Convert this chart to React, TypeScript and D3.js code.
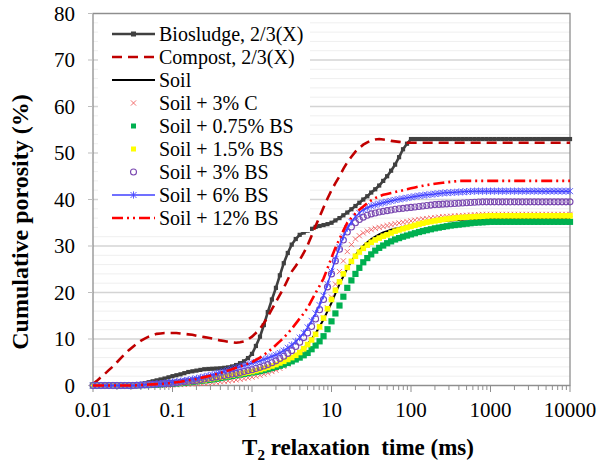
import React from "react";
import * as d3 from "d3";

// T2 relaxation time grid (ms), 20 points per decade
const T2_MS = [
  0.01, 0.0112, 0.0126, 0.0141, 0.0158, 0.0178, 0.02, 0.0224, 0.0251, 0.0282, 0.0316, 0.0355, 0.0398, 0.0447, 0.0501, 0.0562, 0.0631, 0.0708, 0.0794, 0.0891,
  0.1, 0.112, 0.126, 0.141, 0.158, 0.178, 0.2, 0.224, 0.251, 0.282, 0.316, 0.355, 0.398, 0.447, 0.501, 0.562, 0.631, 0.708, 0.794, 0.891,
  1, 1.12, 1.26, 1.41, 1.58, 1.78, 2, 2.24, 2.51, 2.82, 3.16, 3.55, 3.98, 4.47, 5.01, 5.62, 6.31, 7.08, 7.94, 8.91,
  10, 11.2, 12.6, 14.1, 15.8, 17.8, 20, 22.4, 25.1, 28.2, 31.6, 35.5, 39.8, 44.7, 50.1, 56.2, 63.1, 70.8, 79.4, 89.1,
  100, 112, 126, 141, 158, 178, 200, 224, 251, 282, 316, 355, 398, 447, 501, 562, 631, 708, 794, 891,
  1000, 1120, 1260, 1410, 1580, 1780, 2000, 2240, 2510, 2820, 3160, 3550, 3980, 4470, 5010, 5620, 6310, 7080, 7940, 8910,
  10000,
];

const BIOSLUDGE = [
  0, 0, 0, 0, 0, 0, 0, 0, 0, 0, 0, 0.1, 0.3, 0.5, 0.7, 0.9, 1.1, 1.3, 1.5, 1.75,
  2.0, 2.2, 2.4, 2.65, 2.9, 3.05, 3.2, 3.35, 3.5, 3.55, 3.6, 3.65, 3.7, 3.8, 3.9, 4.1, 4.4, 4.8, 5.2, 5.9,
  6.8, 8.5, 10.5, 13.0, 15.8, 18.5, 21.0, 23.7, 26.3, 28.5, 30.3, 31.5, 32.4, 32.9, 33.3, 33.7, 34.1, 34.3, 34.5, 34.7,
  35.0, 35.5, 36.0, 36.6, 37.2, 37.9, 38.6, 39.3, 40.0, 40.7, 41.5, 42.2, 43.0, 44.0, 45.0, 46.2, 47.5, 49.1, 50.8, 52.0,
  53.0, 53.0, 53.0, 53.0, 53.0, 53.0, 53.0, 53.0, 53.0, 53.0, 53.0, 53.0, 53.0, 53.0, 53.0, 53.0, 53.0, 53.0, 53.0, 53.0,
  53.0, 53.0, 53.0, 53.0, 53.0, 53.0, 53.0, 53.0, 53.0, 53.0, 53.0, 53.0, 53.0, 53.0, 53.0, 53.0, 53.0, 53.0, 53.0, 53.0,
  53.0,
];
const COMPOST = [
  0.3, 1.0, 1.8, 2.5, 3.3, 4.1, 5.0, 5.9, 6.8, 7.6, 8.3, 9.0, 9.6, 10.1, 10.5, 10.8, 11.1, 11.2, 11.3, 11.3,
  11.3, 11.3, 11.2, 11.1, 11.0, 10.9, 10.7, 10.55, 10.4, 10.25, 10.1, 9.9, 9.7, 9.55, 9.4, 9.3, 9.2, 9.3, 9.5, 9.9,
  10.5, 11.3, 12.2, 13.4, 14.8, 16.4, 18.0, 19.5, 21.0, 22.8, 24.5, 25.7, 27.0, 28.5, 30.2, 32.2, 34.3, 36.3, 38.3, 40.2,
  42.0, 43.5, 45.0, 46.6, 48.0, 49.2, 50.3, 51.1, 51.8, 52.3, 52.7, 52.9, 53.0, 52.9, 52.8, 52.6, 52.5, 52.4, 52.3, 52.2,
  52.2, 52.2, 52.2, 52.2, 52.2, 52.2, 52.2, 52.2, 52.2, 52.2, 52.2, 52.2, 52.2, 52.2, 52.2, 52.2, 52.2, 52.2, 52.2, 52.2,
  52.2, 52.2, 52.2, 52.2, 52.2, 52.2, 52.2, 52.2, 52.2, 52.2, 52.2, 52.2, 52.2, 52.2, 52.2, 52.2, 52.2, 52.2, 52.2, 52.2,
  52.2,
];
const SOIL = [
  0, 0, 0, 0, 0, 0, 0, 0, 0, 0, 0, 0.05, 0.1, 0.15, 0.2, 0.25, 0.3, 0.35, 0.4, 0.45,
  0.5, 0.55, 0.6, 0.7, 0.8, 0.9, 1.0, 1.1, 1.2, 1.3, 1.4, 1.55, 1.7, 1.85, 2.0, 2.15, 2.3, 2.45, 2.6, 2.75,
  2.9, 3.1, 3.3, 3.55, 3.8, 4.1, 4.4, 4.75, 5.1, 5.5, 6.0, 6.6, 7.2, 8.0, 8.9, 10.0, 11.2, 12.7, 14.2, 16.0,
  17.8, 19.8, 21.8, 23.5, 25.2, 26.7, 28.0, 29.1, 30.0, 30.8, 31.5, 32.0, 32.5, 32.9, 33.2, 33.5, 33.7, 33.9, 34.1, 34.3,
  34.5, 34.65, 34.8, 34.9, 35.0, 35.1, 35.2, 35.3, 35.4, 35.45, 35.5, 35.55, 35.6, 35.65, 35.7, 35.75, 35.8, 35.8, 35.8, 35.8,
  35.8, 35.8, 35.8, 35.8, 35.8, 35.8, 35.8, 35.8, 35.8, 35.8, 35.8, 35.8, 35.8, 35.8, 35.8, 35.8, 35.8, 35.8, 35.8, 35.8,
  35.8,
];
const SOIL_3C = [
  0, 0, 0, 0, 0, 0, 0, 0, 0, 0, 0, 0, 0, 0, 0, 0, 0, 0, 0, 0,
  0.1, 0.15, 0.2, 0.25, 0.3, 0.35, 0.4, 0.45, 0.5, 0.55, 0.6, 0.7, 0.8, 0.9, 1.0, 1.1, 1.2, 1.35, 1.5, 1.65,
  1.8, 2.0, 2.2, 2.45, 2.7, 3.0, 3.3, 3.7, 4.1, 4.6, 5.2, 5.9, 6.6, 7.5, 8.5, 9.7, 11.0, 12.7, 14.5, 16.7,
  19.0, 21.8, 24.5, 26.8, 28.8, 30.3, 31.5, 32.2, 32.8, 33.2, 33.5, 33.8, 34.0, 34.2, 34.4, 34.6, 34.8, 34.95, 35.1, 35.25,
  35.4, 35.55, 35.7, 35.8, 35.9, 36.0, 36.1, 36.2, 36.3, 36.35, 36.4, 36.45, 36.5, 36.55, 36.6, 36.65, 36.7, 36.75, 36.8, 36.8,
  36.8, 36.8, 36.8, 36.8, 36.8, 36.8, 36.8, 36.8, 36.8, 36.8, 36.8, 36.8, 36.8, 36.8, 36.8, 36.8, 36.8, 36.8, 36.8, 36.8,
  36.8,
];
const SOIL_075BS = [
  0, 0, 0, 0, 0, 0, 0, 0, 0, 0, 0, 0.05, 0.1, 0.1, 0.1, 0.15, 0.2, 0.25, 0.3, 0.35,
  0.4, 0.45, 0.5, 0.6, 0.7, 0.8, 0.9, 1.0, 1.1, 1.2, 1.3, 1.45, 1.6, 1.75, 1.9, 2.05, 2.2, 2.35, 2.5, 2.65,
  2.8, 2.95, 3.1, 3.3, 3.5, 3.75, 4.0, 4.25, 4.5, 4.85, 5.2, 5.6, 6.0, 6.5, 7.0, 7.8, 8.6, 9.5, 10.6, 12.1,
  13.8, 15.5, 17.2, 19.1, 21.0, 22.6, 24.0, 25.3, 26.5, 27.4, 28.2, 29.0, 29.6, 30.1, 30.6, 31.0, 31.4, 31.7, 32.0, 32.25,
  32.5, 32.75, 33.0, 33.2, 33.4, 33.6, 33.8, 33.95, 34.1, 34.25, 34.4, 34.5, 34.6, 34.7, 34.8, 34.9, 35.0, 35.05, 35.1, 35.15,
  35.2, 35.2, 35.2, 35.2, 35.2, 35.2, 35.2, 35.2, 35.2, 35.2, 35.2, 35.2, 35.2, 35.2, 35.2, 35.2, 35.2, 35.2, 35.2, 35.2,
  35.2,
];
const SOIL_15BS = [
  0, 0, 0, 0, 0, 0, 0, 0, 0, 0, 0, 0.05, 0.1, 0.15, 0.2, 0.25, 0.3, 0.35, 0.4, 0.45,
  0.5, 0.55, 0.6, 0.7, 0.8, 0.9, 1.0, 1.1, 1.2, 1.35, 1.5, 1.65, 1.8, 1.95, 2.1, 2.25, 2.4, 2.55, 2.7, 2.85,
  3.0, 3.2, 3.4, 3.65, 3.9, 4.2, 4.5, 4.85, 5.2, 5.6, 6.0, 6.5, 7.1, 7.9, 8.8, 9.8, 11.0, 12.6, 14.5, 16.5,
  18.5, 20.5, 22.3, 24.0, 25.4, 26.7, 27.8, 28.7, 29.5, 30.2, 30.8, 31.3, 31.7, 32.1, 32.4, 32.8, 33.2, 33.45, 33.7, 33.95,
  34.2, 34.45, 34.7, 34.9, 35.1, 35.25, 35.4, 35.55, 35.7, 35.8, 35.9, 36.0, 36.1, 36.15, 36.2, 36.25, 36.3, 36.35, 36.4, 36.45,
  36.5, 36.5, 36.5, 36.5, 36.5, 36.5, 36.5, 36.5, 36.5, 36.5, 36.5, 36.5, 36.5, 36.5, 36.5, 36.5, 36.5, 36.5, 36.5, 36.5,
  36.5,
];
const SOIL_3BS = [
  0, 0, 0, 0, 0, 0, 0, 0, 0, 0, 0, 0.05, 0.1, 0.15, 0.2, 0.25, 0.3, 0.35, 0.4, 0.45,
  0.5, 0.6, 0.7, 0.8, 0.9, 1.0, 1.1, 1.25, 1.4, 1.55, 1.7, 1.85, 2.0, 2.15, 2.3, 2.45, 2.6, 2.8, 3.0, 3.2,
  3.4, 3.65, 3.9, 4.2, 4.5, 4.9, 5.3, 5.8, 6.3, 6.9, 7.5, 8.4, 9.3, 10.3, 11.3, 12.7, 14.3, 16.3, 18.5, 21.2,
  24.0, 26.8, 29.3, 31.3, 33.0, 34.1, 35.0, 35.7, 36.2, 36.6, 36.9, 37.1, 37.3, 37.45, 37.6, 37.75, 37.9, 38.0, 38.1, 38.2,
  38.3, 38.4, 38.5, 38.6, 38.7, 38.8, 38.9, 38.95, 39.0, 39.05, 39.1, 39.15, 39.2, 39.25, 39.3, 39.35, 39.4, 39.45, 39.5, 39.5,
  39.5, 39.5, 39.5, 39.5, 39.5, 39.5, 39.5, 39.5, 39.5, 39.5, 39.5, 39.5, 39.5, 39.5, 39.5, 39.5, 39.5, 39.5, 39.5, 39.5,
  39.5,
];
const SOIL_6BS = [
  0, 0, 0, 0, 0, 0, 0, 0, 0, 0, 0, 0.05, 0.1, 0.15, 0.2, 0.25, 0.3, 0.4, 0.5, 0.6,
  0.7, 0.8, 0.9, 1.05, 1.2, 1.35, 1.5, 1.7, 1.9, 2.1, 2.3, 2.55, 2.8, 3.05, 3.3, 3.55, 3.8, 4.05, 4.3, 4.55,
  4.8, 5.05, 5.3, 5.6, 5.9, 6.25, 6.6, 7.0, 7.5, 8.1, 8.7, 9.5, 10.3, 11.3, 12.5, 13.9, 15.5, 17.3, 19.3, 21.8,
  24.5, 27.2, 29.8, 32.0, 33.8, 35.2, 36.3, 37.1, 37.8, 38.2, 38.6, 38.85, 39.1, 39.3, 39.5, 39.7, 39.9, 40.05, 40.2, 40.35,
  40.5, 40.65, 40.8, 40.9, 41.0, 41.1, 41.2, 41.3, 41.4, 41.45, 41.5, 41.55, 41.6, 41.65, 41.7, 41.75, 41.8, 41.8, 41.8, 41.8,
  41.8, 41.8, 41.8, 41.8, 41.8, 41.8, 41.8, 41.8, 41.8, 41.8, 41.8, 41.8, 41.8, 41.8, 41.8, 41.8, 41.8, 41.8, 41.8, 41.8,
  41.8,
];
const SOIL_12BS = [
  0, 0, 0, 0, 0, 0, 0, 0, 0, 0, 0, 0.05, 0.1, 0.15, 0.2, 0.25, 0.3, 0.35, 0.4, 0.5,
  0.6, 0.7, 0.8, 0.95, 1.1, 1.25, 1.4, 1.6, 1.8, 2.0, 2.2, 2.45, 2.7, 2.95, 3.2, 3.5, 3.8, 4.1, 4.4, 4.7,
  5.0, 5.5, 6.0, 6.6, 7.2, 7.9, 8.7, 9.5, 10.3, 11.2, 12.2, 13.3, 14.4, 15.5, 16.7, 18.3, 19.9, 21.4, 23.0, 25.2,
  27.5, 29.6, 31.5, 33.3, 35.0, 36.1, 37.0, 37.8, 38.5, 39.2, 39.8, 40.3, 40.7, 41.0, 41.2, 41.4, 41.6, 41.8, 42.0, 42.2,
  42.4, 42.6, 42.8, 42.95, 43.1, 43.25, 43.4, 43.5, 43.6, 43.7, 43.8, 43.9, 44.0, 44.0, 44.0, 44.0, 44.0, 44.0, 44.0, 44.0,
  44.0, 44.0, 44.0, 44.0, 44.0, 44.0, 44.0, 44.0, 44.0, 44.0, 44.0, 44.0, 44.0, 44.0, 44.0, 44.0, 44.0, 44.0, 44.0, 44.0,
  44.0,
];

const SERIES_NAMES = [
  "Biosludge, 2/3(X)",
  "Compost, 2/3(X)",
  "Soil",
  "Soil + 3% C",
  "Soil + 0.75% BS",
  "Soil + 1.5% BS",
  "Soil + 3% BS",
  "Soil + 6% BS",
  "Soil + 12% BS",
];
const SERIES_VALUES = [
  BIOSLUDGE, COMPOST, SOIL, SOIL_3C, SOIL_075BS, SOIL_15BS, SOIL_3BS, SOIL_6BS, SOIL_12BS,
];
const X_TICKS = [0.01, 0.1, 1, 10, 100, 1000, 10000];
const X_TICK_LABELS = ["0.01", "0.1", "1", "10", "100", "1000", "10000"];
const Y_TICKS = [0, 10, 20, 30, 40, 50, 60, 70, 80];

type Style = {
  line?: { color: string; width: number; dash?: string };
  marker?: "square" | "x" | "circle" | "star" | "none";
  mColor?: string;
  mSize?: number;
};

const STYLES: Style[] = [
  { line: { color: "#404040", width: 2.6 }, marker: "square", mColor: "#404040", mSize: 4.2 },
  { line: { color: "#C00000", width: 2.6, dash: "10,6" }, marker: "none" },
  { line: { color: "#000000", width: 2 }, marker: "none" },
  { marker: "x", mColor: "#F06060", mSize: 2.6 },
  { marker: "square", mColor: "#00B050", mSize: 6.2 },
  { marker: "square", mColor: "#FFFF00", mSize: 5.6 },
  { marker: "circle", mColor: "#7A48B0", mSize: 3 },
  { line: { color: "#4040FF", width: 1.5 }, marker: "star", mColor: "#4A4AFF", mSize: 3 },
  { line: { color: "#FF0000", width: 2.6, dash: "11,4,2,4,2,4" }, marker: "none" },
];

function Marker({ kind, cx, cy, color, s }: { kind: string; cx: number; cy: number; color: string; s: number }) {
  if (kind === "square")
    return <rect x={cx - s / 2} y={cy - s / 2} width={s} height={s} fill={color} />;
  if (kind === "circle")
    return <circle cx={cx} cy={cy} r={s} fill="none" stroke={color} strokeWidth={1.1} />;
  if (kind === "x")
    return (
      <path
        d={`M${cx - s},${cy - s}L${cx + s},${cy + s}M${cx - s},${cy + s}L${cx + s},${cy - s}`}
        stroke={color}
        strokeWidth={0.9}
        fill="none"
      />
    );
  if (kind === "star")
    return (
      <path
        d={`M${cx - s},${cy - s}L${cx + s},${cy + s}M${cx - s},${cy + s}L${cx + s},${cy - s}M${cx},${cy - s * 1.2}L${cx},${cy + s * 1.2}`}
        stroke={color}
        strokeWidth={0.9}
        fill="none"
      />
    );
  return null;
}

const FONT = '"Liberation Serif", "Times New Roman", Times, "DejaVu Serif", serif';

export default function App() {
  const W = 598;
  const H = 466;
  const x = d3.scaleLog().domain([0.01, 10000]).range([93, 570]);
  const y = d3.scaleLinear().domain([0, 80]).range([385.5, 13.5]);
  const line = d3
    .line<[number, number]>()
    .x((d) => x(d[0]))
    .y((d) => y(d[1]));

  const minorY = d3.range(0, 81, 2).filter((v) => v % 10 !== 0);
  const minorX: number[] = [];
  X_TICKS.slice(0, -1).forEach((d) => {
    for (let k = 2; k <= 9; k++) minorX.push(d * k);
  });

  const legendY0 = 34;
  const legendDy = 23;
  const txt = { fontFamily: FONT };

  return (
    <svg width={W} height={H} style={{ position: "absolute", left: 0, top: 0, background: "#fff", fontFamily: FONT }}>
      <rect x={0} y={0} width={W} height={H} fill="#fff" />
      {/* gridlines */}
      {minorY.map((v) => (
        <line key={"mg" + v} x1={93} x2={570} y1={y(v)} y2={y(v)} stroke="#EFEFEF" strokeWidth={1} />
      ))}
      {Y_TICKS.map((v) => (
        <line key={"g" + v} x1={93} x2={570} y1={y(v)} y2={y(v)} stroke="#D4D4D4" strokeWidth={1.4} />
      ))}
      {/* plot border */}
      <rect x={93} y={13.5} width={477} height={372} fill="none" stroke="#8E8E8E" strokeWidth={1.3} />
      {/* y ticks */}
      {Y_TICKS.map((v) => (
        <g key={"yt" + v}>
          <line x1={88} x2={93} y1={y(v)} y2={y(v)} stroke="#BDBDBD" strokeWidth={1} />
          <text x={75} y={y(v)} dy="0.35em" textAnchor="end" style={txt} fontSize={21} fill="#000">
            {v}
          </text>
        </g>
      ))}
      {/* x ticks */}
      {X_TICKS.map((v, i) => (
        <g key={"xt" + v}>
          <line x1={x(v)} x2={x(v)} y1={385.5} y2={392} stroke="#8E8E8E" strokeWidth={1} />
          <text x={x(v)} y={417} textAnchor="middle" style={txt} fontSize={21} fill="#000">
            {X_TICK_LABELS[i]}
          </text>
        </g>
      ))}
      {minorX.map((v) => (
        <line key={"mx" + v} x1={x(v)} x2={x(v)} y1={385.5} y2={390} stroke="#8E8E8E" strokeWidth={1} />
      ))}
      {/* series */}
      {SERIES_VALUES.map((vals, si) => {
        const st = STYLES[si];
        const pts: [number, number][] = T2_MS.map((t, i) => [t, vals[i]]);
        return (
          <g key={"s" + si}>
            {st.line && (
              <path
                d={line(pts) || ""}
                fill="none"
                stroke={st.line.color}
                strokeWidth={st.line.width}
                strokeDasharray={st.line.dash}
              />
            )}
            {st.marker &&
              st.marker !== "none" &&
              pts.map((p, i) => (
                <Marker key={i} kind={st.marker!} cx={x(p[0])} cy={y(p[1])} color={st.mColor!} s={st.mSize!} />
              ))}
          </g>
        );
      })}
      {/* legend */}
      <rect x={98} y={17} width={212} height={215} fill="#fff" />
      {SERIES_NAMES.map((name, i) => {
        const st = STYLES[i];
        const ly = legendY0 + i * legendDy;
        return (
          <g key={"lg" + i}>
            {st.line && (
              <line
                x1={112}
                x2={155}
                y1={ly}
                y2={ly}
                stroke={st.line.color}
                strokeWidth={st.line.width}
                strokeDasharray={st.line.dash}
              />
            )}
            {st.marker && st.marker !== "none" && (
              <Marker kind={st.marker} cx={133.5} cy={ly} color={st.mColor!} s={st.marker === "square" ? 5 : st.mSize!} />
            )}
            <text x={159} y={ly} dy="0.35em" style={txt} fontSize={20} fill="#000">
              {name}
            </text>
          </g>
        );
      })}
      {/* axis titles */}
      <text
        transform={`translate(28,222) rotate(-90)`}
        textAnchor="middle"
        style={txt}
        fontWeight="bold"
        fontSize={24}
        fill="#000"
      >
        Cumulative porosity (%)
      </text>
      <text x={358} y={455} textAnchor="middle" fontWeight="bold" fontSize={23} fill="#000" style={{ ...txt, whiteSpace: "pre" }}>
        T<tspan fontSize={15} dy={5}>2</tspan>
        <tspan dy={-5}>{" relaxation  time (ms)"}</tspan>
      </text>
    </svg>
  );
}
